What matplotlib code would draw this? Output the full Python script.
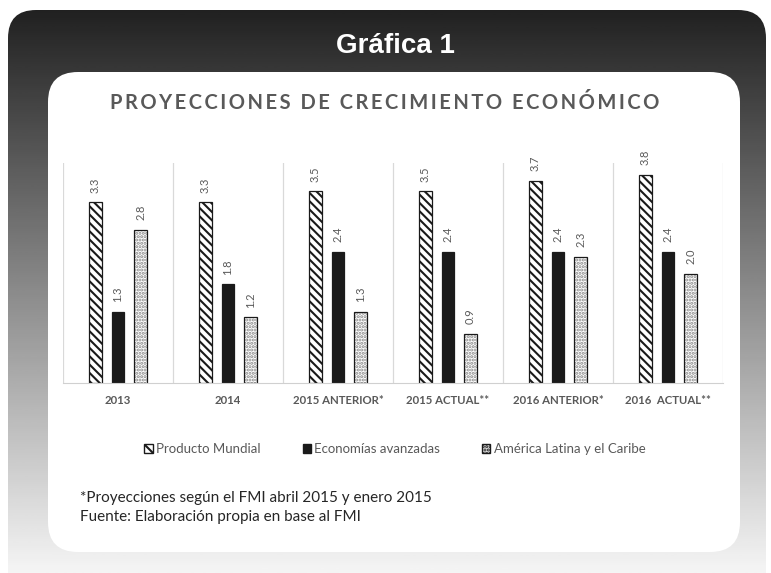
import matplotlib.pyplot as plt
import matplotlib.patches as mpatches
import numpy as np
from matplotlib.patches import FancyBboxPatch

categories = ["2013", "2014", "2015 ANTERIOR*", "2015 ACTUAL**", "2016 ANTERIOR*", "2016  ACTUAL**"]
producto_mundial = [3.3, 3.3, 3.5, 3.5, 3.7, 3.8]
economias_avanzadas = [1.3, 1.8, 2.4, 2.4, 2.4, 2.4]
america_latina = [2.8, 1.2, 1.3, 0.9, 2.3, 2.0]
series_names = ["Producto Mundial", "Economías avanzadas", "América Latina y el Caribe"]

W, H = 771, 573
plt.rcParams["hatch.linewidth"] = 1.5

fig = plt.figure(figsize=(W / 100, H / 100), dpi=100)
fig.patch.set_facecolor("white")

# background frame in pixel coordinates
bg = fig.add_axes([0, 0, 1, 1])
bg.set_xlim(0, W)
bg.set_ylim(H, 0)
bg.axis("off")

outer = FancyBboxPatch((8, 10), 758, 620, boxstyle="round,pad=0,rounding_size=28",
                       facecolor="none", edgecolor="none")
bg.add_patch(outer)
grad = np.linspace(0.13, 0.96, 256).reshape(-1, 1)
img = bg.imshow(grad, cmap="gray", vmin=0, vmax=1, extent=(8, 766, 573, 10), aspect="auto")
img.set_clip_path(outer)

inner = FancyBboxPatch((48, 72), 692, 480, boxstyle="round,pad=0,rounding_size=30",
                       facecolor="white", edgecolor="none")
bg.add_patch(inner)

bg.text(395, 46, "Gráfica 1", color="white", fontsize=20, fontweight="bold",
        family="Liberation Sans", ha="center", va="center")
title = "PROYECCIONES DE CRECIMIENTO ECONÓMICO"
bg.text(385, 103, "\u2009".join(title), color="#595959",
        fontsize=14.5, fontweight="bold", family=["Lato", "DejaVu Sans"], ha="center", va="center")
bg.text(80, 498, "*Proyecciones según el FMI abril 2015 y enero 2015", color="#262626",
        fontsize=11, family="Lato", ha="left", va="center")
bg.text(80, 517, "Fuente: Elaboración propia en base al FMI", color="#262626",
        fontsize=11, family="Lato", ha="left", va="center")

# chart
ax = fig.add_axes([63 / W, 1 - 383 / H, 660 / W, 220 / H])
ax.set_facecolor("none")
x = np.arange(len(categories))
off = 0.205
bw = 0.118

b1 = ax.bar(x - off, producto_mundial, bw, facecolor="white", edgecolor="#1a1a1a",
            hatch="\\\\\\\\", linewidth=0.9)
b2 = ax.bar(x, economias_avanzadas, bw, color="#1a1a1a", edgecolor="#1a1a1a", linewidth=0.9)
b3 = ax.bar(x + off, america_latina, bw, facecolor="white", edgecolor="#8a8a8a",
            hatch=".....", linewidth=0)
ax.bar(x + off, america_latina, bw, facecolor="none", edgecolor="#1a1a1a", linewidth=0.9)

for bars, vals in [(b1, producto_mundial), (b2, economias_avanzadas), (b3, america_latina)]:
    for r, v in zip(bars, vals):
        ax.annotate(f"{v:.1f}", (r.get_x() + r.get_width() / 2, v), xytext=(0, 7),
                    textcoords="offset points", rotation=90, ha="center", va="bottom",
                    fontsize=8, color="#595959", family="Lato")

ax.set_xlim(-0.5, len(categories) - 0.5)
ax.set_ylim(0, 4.02)
ax.set_yticks([])
ax.set_xticks(x)
ax.set_xticklabels(categories, fontsize=8.2, fontweight="bold", color="#595959", family="Lato")
ax.tick_params(axis="x", length=0, pad=9)
ax.set_xticks(np.arange(-0.5, len(categories)), minor=True)
ax.tick_params(axis="x", which="minor", length=0)
ax.grid(axis="x", which="minor", color="#d9d9d9", linewidth=0.9)
ax.set_axisbelow(True)
for s in ["top", "left", "right"]:
    ax.spines[s].set_visible(False)
ax.spines["bottom"].set_color("#d0d0d0")

handles = [
    mpatches.Patch(facecolor="white", edgecolor="#1a1a1a", hatch="\\\\\\", label=series_names[0]),
    mpatches.Patch(facecolor="#1a1a1a", edgecolor="#1a1a1a", label=series_names[1]),
    mpatches.Patch(facecolor="#dddddd", edgecolor="#1a1a1a", hatch=".....", label=series_names[2]),
]
leg = fig.legend(handles=handles, loc="center", bbox_to_anchor=(395 / W, 1 - 449 / H), ncol=3,
                 frameon=False, handlelength=0.65, handleheight=0.65, handletextpad=0.25,
                 columnspacing=3.15, prop={"family": "Lato", "size": 9.5})
for t in leg.get_texts():
    t.set_color("#595959")

fig.savefig("out.png", dpi=100)
